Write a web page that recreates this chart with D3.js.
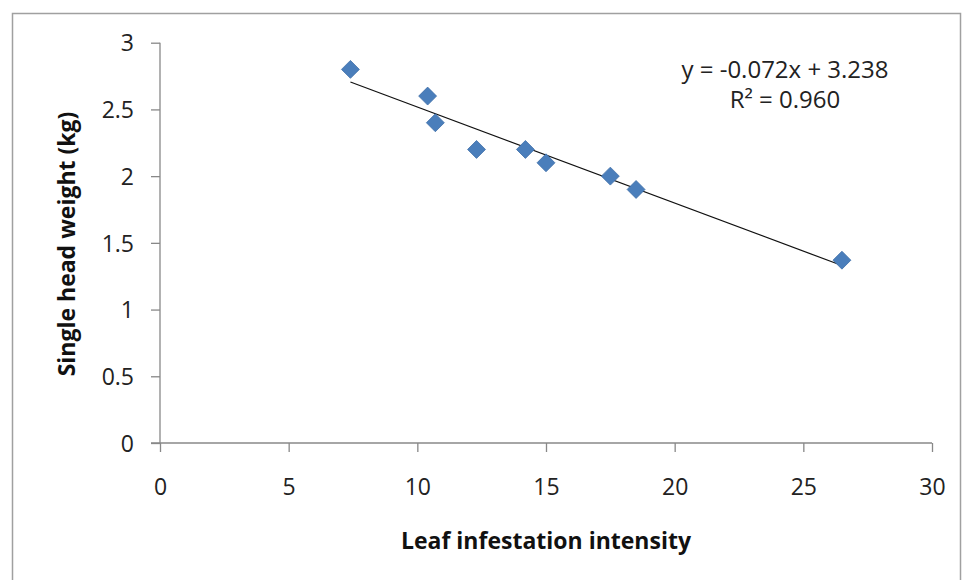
<!DOCTYPE html>
<html><head><meta charset="utf-8">
<script src="https://cdn.jsdelivr.net/npm/d3@7"></script>
<style>body{margin:0;background:#fff}svg{display:block}</style>
</head><body>
<svg id="c" width="962" height="580"></svg>
<script>
const xValues = [7.4, 10.4, 10.7, 12.3, 14.2, 15.0, 17.5, 18.5, 26.5];
const yValues = [2.8, 2.6, 2.4, 2.2, 2.2, 2.1, 2.0, 1.9, 1.37];
const xTicks = [0, 5, 10, 15, 20, 25, 30];
const yTicks = [0, 0.5, 1, 1.5, 2, 2.5, 3];
const slope = -0.072, intercept = 3.238;
const eqText = "y = -0.072x + 3.238";
const r2Text = "R² = 0.960";
const xTitle = "Leaf infestation intensity";
const yTitle = "Single head weight (kg)";

const svg = d3.select("#c");
const font = "'Open Sans', sans-serif";
svg.append("rect").attr("x",12.5).attr("y",13.5).attr("width",948).attr("height",600)
  .attr("fill","none").attr("stroke","#a0a0a0").attr("stroke-width",1.5);

const x = d3.scaleLinear().domain([0,30]).range([160,932]);
const y = d3.scaleLinear().domain([0,3]).range([443,42.7]);

const xAxis = svg.append("g").attr("transform","translate(0,443)")
  .call(d3.axisBottom(x).tickValues(xTicks).tickSize(9).tickPadding(26).tickFormat(d3.format("")));
const yAxis = svg.append("g").attr("transform","translate(160,0)")
  .call(d3.axisLeft(y).tickValues(yTicks).tickSize(9).tickPadding(17).tickFormat(d3.format("")));
[xAxis,yAxis].forEach(a=>{
  a.attr("font-family",null).attr("font-size",null);
  a.select(".domain").attr("stroke","#888").attr("stroke-width",1.3);
  a.selectAll(".tick line").attr("stroke","#888").attr("stroke-width",1.3);
  a.selectAll("text").attr("fill","#222").style("font-family",font).style("font-size","23px");
});
yAxis.select(".domain").attr("d",`M0,${y(0)}V${y(3)}`);
xAxis.select(".domain").attr("d",`M${x(0)-9},0H${x(30)}`);
yAxis.selectAll(".tick line").attr("x1",-9).attr("x2",0);
xAxis.selectAll("text").attr("dy","0.72em");
yAxis.selectAll("text").attr("dy","0.36em");

const xr = d3.extent(xValues);
svg.append("line").attr("x1",x(xr[0])).attr("y1",y(slope*xr[0]+intercept))
  .attr("x2",x(xr[1])).attr("y2",y(slope*xr[1]+intercept))
  .attr("stroke","#111").attr("stroke-width",1.2);

const pts = xValues.map((v,i)=>[v,yValues[i]]);
svg.append("g").selectAll("path").data(pts).join("path")
  .attr("transform",d=>`translate(${x(d[0])},${y(d[1])})`)
  .attr("d",d3.symbol().type(d3.symbolDiamond2).size(205))
  .attr("fill","#4a7ebb").attr("stroke","#3f6fa8").attr("stroke-width",0.8);

svg.append("text").attr("x",785).attr("y",78).attr("text-anchor","middle")
  .style("font-family",font).style("font-size","24px").attr("fill","#222").text(eqText);
svg.append("text").attr("x",785).attr("y",108).attr("text-anchor","middle")
  .style("font-family",font).style("font-size","24px").attr("fill","#222").text(r2Text);

svg.append("text").attr("x",546).attr("y",549).attr("text-anchor","middle")
  .style("font-family",font).style("font-size","23px").style("font-weight","bold").attr("fill","#111").text(xTitle);
svg.append("text").attr("transform","translate(75,244) rotate(-90)").attr("text-anchor","middle")
  .style("font-family",font).style("font-size","23px").style("font-weight","bold").attr("fill","#111").text(yTitle);
</script>
</body></html>
